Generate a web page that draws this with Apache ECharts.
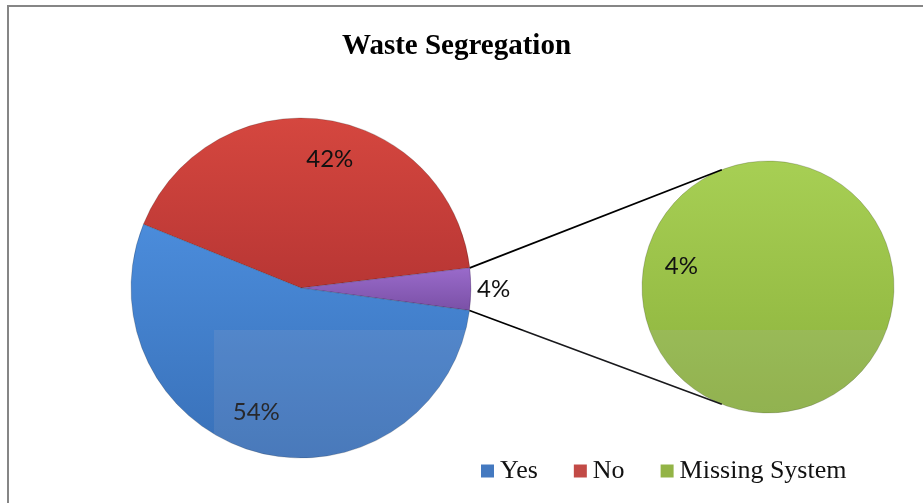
<!DOCTYPE html>
<html>
<head>
<meta charset="utf-8">
<title>Waste Segregation</title>
<script src="https://cdn.jsdelivr.net/npm/echarts@6/dist/echarts.min.js"></script>
<style>
  html, body { margin: 0; padding: 0; background: #ffffff; }
  #chart { width: 923px; height: 503px; }
</style>
</head>
<body>
<div id="chart"></div>
<script>
// Survey answers: share of respondents who segregate their waste
const categories = ['Yes', 'No', 'Missing System'];
const values = [54, 42, 4];
const chartTitle = 'Waste Segregation';

// Layout of the two pies (main pie and the split-off secondary pie)
const MAIN = { cx: 301, cy: 288, r: 170, labelR0: 88 };
const SUB = { cx: 768, cy: 287, r: 126, labelR0: 46, linkAngle: 111.5 };
const START_ANGLE = 158;
const LABEL_TURN = 5; // labels sit slightly clockwise of each slice's middle

const COLORS = {
  'Yes': ['#4b8cdb', '#3870b8'],
  'No': ['#d5473f', '#b83634'],
  'Other': ['#9a6bcb', '#7a50a6'],
  'Missing System': ['#a7cf54', '#8cb23c']
};
const LEGEND_COLORS = { 'Yes': '#4479c0', 'No': '#c24a46', 'Missing System': '#93b446' };

const total = values.reduce((s, v) => s + v, 0);
const valueOf = name => values[categories.indexOf(name)];
const pct = v => Math.round(v / total * 100) + '%';

function grad(name) {
  const c = COLORS[name];
  return {
    type: 'linear', x: 0, y: 0, x2: 0, y2: 1,
    colorStops: [{ offset: 0, color: c[0] }, { offset: 1, color: c[1] }]
  };
}

// Main pie: No, the split-off slice, then Yes (clockwise from START_ANGLE)
const mainData = [
  { name: 'No', value: valueOf('No'), itemStyle: { color: grad('No') } },
  {
    name: 'Other', value: valueOf('Missing System'), itemStyle: { color: grad('Other') },
    label: { show: true, position: 'outside', distanceToLabelLine: 4 },
    labelLine: { show: false, length: 2, length2: 0 }
  },
  { name: 'Yes', value: valueOf('Yes'), itemStyle: { color: grad('Yes') } }
];
const subData = [
  { name: 'Missing System', value: valueOf('Missing System'), itemStyle: { color: grad('Missing System') } }
];

const labelFont = { fontFamily: 'Lato', fontSize: 24, color: '#111' };

// Edges of the split-off slice, used for the connector lines
const a1 = START_ANGLE - valueOf('No') / total * 360;
const a2 = a1 - valueOf('Missing System') / total * 360;
const rad = d => d * Math.PI / 180;
const onCircle = (c, r, deg) => [c.cx + r * Math.cos(rad(deg)), c.cy - r * Math.sin(rad(deg))];
const p1 = onCircle(MAIN, MAIN.r, a1);
const p2 = onCircle(MAIN, MAIN.r, a2);
const q1 = onCircle(SUB, SUB.r, SUB.linkAngle);
const q2 = onCircle(SUB, SUB.r, -SUB.linkAngle);

const pieBase = {
  type: 'pie',
  startAngle: START_ANGLE,
  clockwise: true,
  avoidLabelOverlap: false,
  animation: false,
  emphasis: { disabled: true },
  itemStyle: { borderColor: 'rgba(0,0,0,0.18)', borderWidth: 1 }
};

const option = {
  backgroundColor: 'transparent',
  animation: false,
  title: {
    text: chartTitle,
    left: 337,
    top: 27,
    textStyle: { fontFamily: 'Liberation Serif', fontWeight: 'bold', fontSize: 29, color: '#000' }
  },
  legend: {
    left: 476,
    top: 453,
    itemWidth: 15,
    itemHeight: 13,
    itemGap: 36,
    icon: 'path://M0,0 L10,0 L10,10 L0,10 Z',
    textStyle: { fontFamily: 'Liberation Serif', fontSize: 26, color: '#111' },
    data: categories.map(n => ({ name: n, itemStyle: { color: LEGEND_COLORS[n], borderWidth: 0 } }))
  },
  series: [
    Object.assign({}, pieBase, {
      name: 'main',
      center: [MAIN.cx, MAIN.cy],
      radius: [0, MAIN.r],
      label: Object.assign({ show: false, formatter: p => pct(p.value) }, labelFont),
      data: mainData
    }),
    // percentage labels of the main pie, placed on an invisible ring
    Object.assign({}, pieBase, {
      name: 'mainLabels',
      silent: true,
      startAngle: START_ANGLE - LABEL_TURN,
      center: [MAIN.cx, MAIN.cy],
      radius: [MAIN.labelR0, MAIN.r],
      itemStyle: { color: 'rgba(0,0,0,0)', borderWidth: 0 },
      label: Object.assign({ show: true, position: 'inside', formatter: p => pct(p.value) }, labelFont),
      labelLine: { show: false },
      data: mainData.map(d => ({
        name: d.name, value: d.value,
        label: { show: d.name !== 'Other' },
        itemStyle: { color: 'rgba(0,0,0,0)' }
      }))
    }),
    Object.assign({}, pieBase, {
      name: 'sub',
      startAngle: 346.6,
      center: [SUB.cx, SUB.cy],
      radius: [0, SUB.r],
      label: { show: false },
      data: subData
    }),
    Object.assign({}, pieBase, {
      name: 'subLabels',
      silent: true,
      startAngle: 346.6,
      center: [SUB.cx, SUB.cy],
      radius: [SUB.labelR0, SUB.r],
      itemStyle: { color: 'rgba(0,0,0,0)', borderWidth: 0 },
      label: Object.assign({ show: true, position: 'inside', formatter: p => pct(p.value) }, labelFont),
      labelLine: { show: false },
      data: subData.map(d => ({ name: d.name, value: d.value, itemStyle: { color: 'rgba(0,0,0,0)' } }))
    })
  ],
  graphic: [
    // chart frame
    { type: 'rect', z: 0, silent: true, shape: { x: 8, y: 6, width: 940, height: 520 },
      style: { fill: 'none', stroke: '#868686', lineWidth: 2 } },
    // connector lines between the split-off slice and the secondary pie
    { type: 'line', z: 50, silent: true, shape: { x1: p1[0], y1: p1[1], x2: q1[0], y2: q1[1] },
      style: { stroke: '#000', lineWidth: 1.7 } },
    { type: 'line', z: 50, silent: true, shape: { x1: p2[0], y1: p2[1], x2: q2[0], y2: q2[1] },
      style: { stroke: '#000', lineWidth: 1.7 } },
    // faint light band across the lower half of both pies (only over painted areas)
    { type: 'rect', z: 100, silent: true, shape: { x: 214, y: 330, width: 690, height: 132 },
      style: { fill: 'rgba(175,180,195,0.14)', blend: 'source-atop' } }
  ]
};

const chart = echarts.init(document.getElementById('chart'), null, { renderer: 'canvas' });
chart.setOption(option);
</script>
</body>
</html>
